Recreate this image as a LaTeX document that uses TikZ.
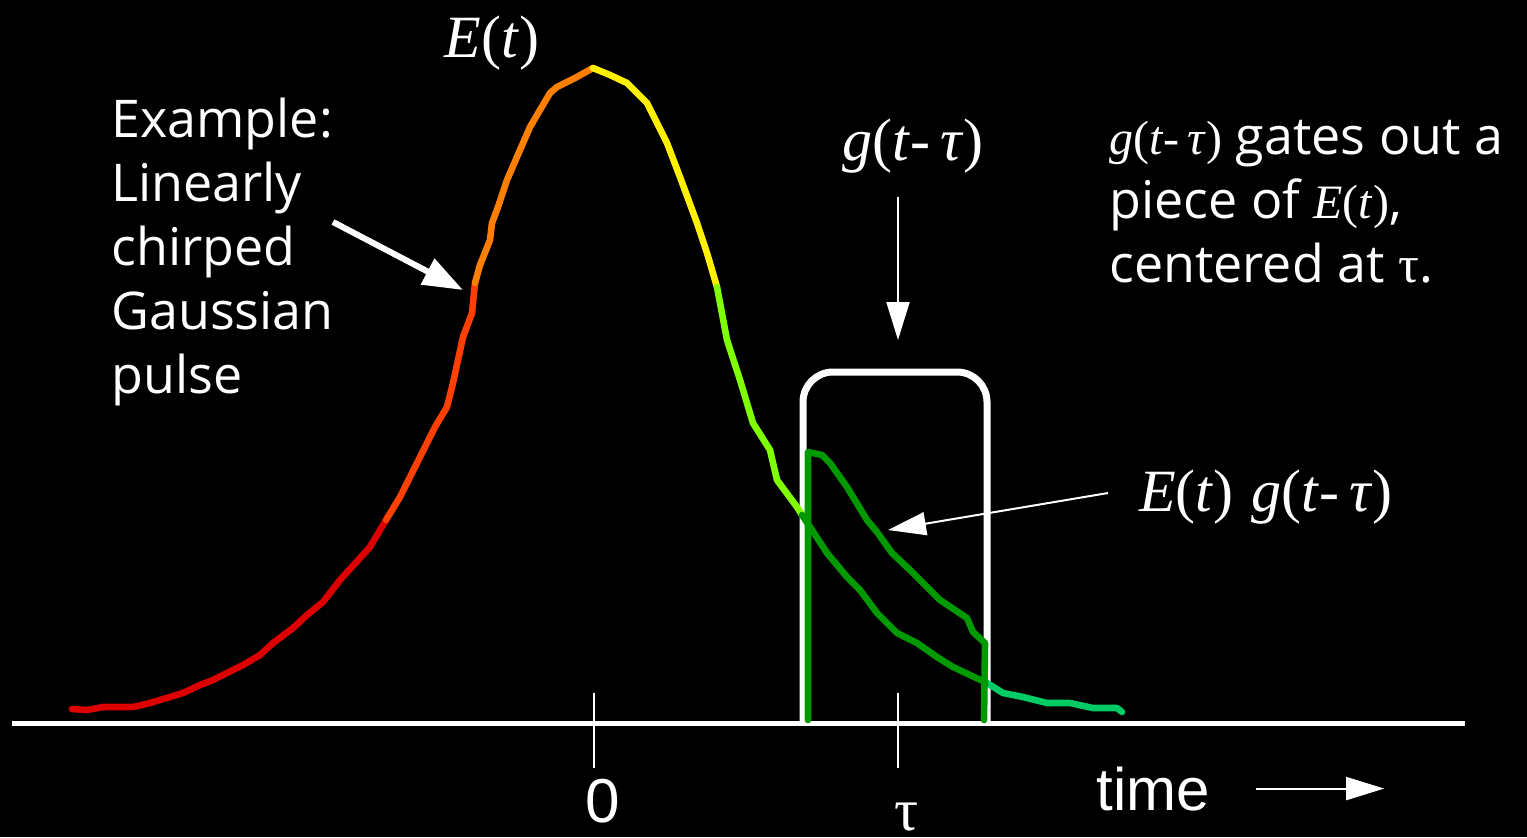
\documentclass[tikz,border=0pt]{standalone}
\usepackage{fontspec}
\usepackage{xcolor}
\usepackage{tikz}
\usetikzlibrary{arrows.meta,positioning}
\newfontfamily\handfont{Open Sans}
\newfontfamily\timesfont{Liberation Serif}
\newfontfamily\arialfont{Liberation Sans}
\definecolor{pulsered}{RGB}{221,0,0}
\definecolor{pulseredorange}{RGB}{255,64,0}
\definecolor{pulseorange}{RGB}{255,128,0}
\definecolor{pulseyellow}{RGB}{255,240,0}
\definecolor{pulselime}{RGB}{128,255,0}
\definecolor{gatedgreen}{RGB}{0,153,0}
\definecolor{pulsespring}{RGB}{0,204,102}
\newcommand{\Efn}{{\timesfont\textit{E}(\textit{t})}}
\newcommand{\gfn}{{\timesfont\textit{g}(\textit{t}-\,\textit{τ})}}
\newcommand{\smallmath}{\fontsize{24}{32}\selectfont}

\begin{document}
\begin{tikzpicture}[x=0.5pt,y=-0.5pt,lbl/.style={text=white,inner sep=0pt},hand/.style={lbl,font=\handfont\fontsize{26}{32}\selectfont,align=left},mathlbl/.style={lbl,font=\fontsize{30}{36}\selectfont},curve/.style={line width=3.3pt,line cap=round,line join=round},arr/.style={-{Triangle[length=19pt,width=11.5pt]},line width=1pt,white},fatarr/.style={-{Triangle[length=20pt,width=14pt]},line width=3pt,white}]
\fill[black] (0,0) rectangle (1527,837);
\useasboundingbox (0,0) rectangle (1527,837);
% time axis and ticks
\draw[white,line width=2.5pt] (12,723) -- (1465,723);
\draw[white,line width=1pt] (594,693) -- (594,768); \draw[white,line width=1pt] (898,693) -- (898,768);
% gate
\draw[white,line width=3.5pt,rounded corners=15pt] (803,722) -- (803,372) -- (987,372) -- (987,722);
% chirped pulse
\draw[curve,pulsered] plot coordinates {(72,709) (87,710) (103,707) (133,707) (150,703) (183,693) (200,685) (213,680) (243,665) (260,655) (273,643) (293,628) (307,615) (323,602) (340,580) (370,547) (386,520)};
\draw[curve,pulseredorange] plot coordinates {(386,520) (400,497) (410,477) (421,455) (435,427) (447,407) (453,383) (463,337) (472,313) (475,283)};
\draw[curve,pulseorange] plot coordinates {(475,283) (480,265) (490,240) (492,223) (498,207) (507,180) (520,150) (530,127) (550,93) (557,87) (575,78) (593,68)};
\draw[curve,pulseyellow] plot coordinates {(593,68) (610,75) (627,83) (647,103) (667,143) (680,177) (697,223) (707,253) (717,287)};
\draw[curve,pulselime] plot coordinates {(717,287) (727,340) (740,380) (753,423) (770,450) (777,480) (797,507) (802,515)};
\draw[curve,gatedgreen] plot coordinates {(802,515) (812,530) (827,553) (847,577) (860,590) (877,613) (897,633) (917,643) (937,657) (953,667) (987,683)};
\draw[curve,pulsespring] plot coordinates {(987,683) (1003,693) (1023,697) (1047,703) (1070,703) (1093,708) (1117,708) (1122,712)};
% gated piece
\draw[curve,gatedgreen] plot coordinates {(808,720) (808,452) (822,455) (830,463) (847,487) (867,520) (877,532) (892,553) (910,570) (940,600) (967,618) (973,632) (985,643) (984,720)};
% labels
\node[mathlbl,anchor=base] (Et) at (492,57) {\Efn};
\node[hand,anchor=base west] (expl) at (111,393) {Example:\\Linearly\\chirped\\Gaussian\\pulse};
\node[mathlbl,anchor=base] (glab) at (913,160) {\gfn};
\node[hand,anchor=base west] (gdesc) at (1109,282) {{\smallmath\gfn} gates out a\\piece of {\smallmath\Efn},\\centered at {\timesfont τ}.};
\node[mathlbl] (prod) at (1266,497) {\Efn\ \gfn};
\node[lbl,font=\arialfont\fontsize{31}{36}\selectfont,anchor=base] (zero) at (603,822) {0};
\node[lbl,font=\timesfont\fontsize{30}{36}\selectfont,anchor=base] (tau) at (907,830) {τ};
\node[lbl,font=\arialfont\fontsize{30}{36}\selectfont,anchor=base west] (time) at (1096,810) {time};
% pointers
\coordinate (exTail) at (333,222); \coordinate (exTip) at (463,290);
\coordinate (gTail) at (898,197); \coordinate (gTip) at (898,340);
\coordinate (prodTail) at (1108,493); \coordinate (prodTip) at (888,530);
\draw[fatarr] (exTail) -- (exTip); \draw[arr] (gTail) -- (gTip); \draw[arr] (prodTail) -- (prodTip);
\draw[arr] ([xshift=23pt]time.east) -- +(128,0);
\end{tikzpicture}
\end{document}
